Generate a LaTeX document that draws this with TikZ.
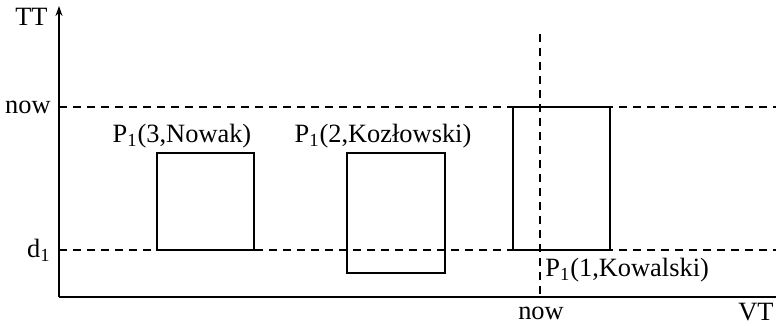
\documentclass[tikz,border=0pt]{standalone}
\usepackage{fontspec}
\setmainfont{Liberation Serif}
\usetikzlibrary{arrows.meta, positioning}

\begin{document}
\begin{tikzpicture}[
  x=0.5pt, y=-0.5pt,
  lbl/.style = { font=\fontsize{13.2}{15}\selectfont, inner sep=0pt },
  axis/.style = { line width=0.65pt },
  guide/.style = { line width=0.6pt, dash pattern=on 4pt off 3pt },
  period/.style = { line width=0.6pt }
]
\useasboundingbox (0,0) rectangle (776,326);

% axes
\coordinate (O) at (59,297);
\coordinate (ttend) at (59,6);
\coordinate (vtend) at (776,297);
\draw[axis, -{Stealth[length=5pt, width=3.5pt]}] (O) -- (ttend);
\draw[axis] (O) -- (vtend);

\node[lbl, anchor=east] (TT) at (48,17) {TT};
\node[lbl, anchor=east] (VT) at (774,312) {VT};

% transaction-time levels
\coordinate (nowL) at (59,107);
\coordinate (nowR) at (776,107);
\coordinate (dL) at (59,250);
\coordinate (dR) at (776,250);
\draw[guide] (nowL) -- (nowR);
\draw[guide] (dL) -- (dR);
\node[lbl, anchor=east] (nowtt) at (51,107) {now};
\node[lbl, anchor=east] (d1) at (51,250) {d\textsubscript{1}};

% valid-time now
\coordinate (nowT) at (540,34);
\coordinate (nowB) at (540,297);
\draw[guide] (nowT) -- (nowB);
\node[lbl] (nowvt) at (541,313) {now};

% tuple versions
\draw[period] (157,153) rectangle (254,250);
\draw[period] (347,153) rectangle (445,273);
\draw[period] (513,107) rectangle (610,250);

\node[lbl] (p3) at (182,136) {P\textsubscript{1}(3,Nowak)};
\node[lbl] (p2) at (383,136) {P\textsubscript{1}(2,Kozłowski)};
\node[lbl, anchor=west] (p1) at (545,270) {P\textsubscript{1}(1,Kowalski)};

\end{tikzpicture}
\end{document}
